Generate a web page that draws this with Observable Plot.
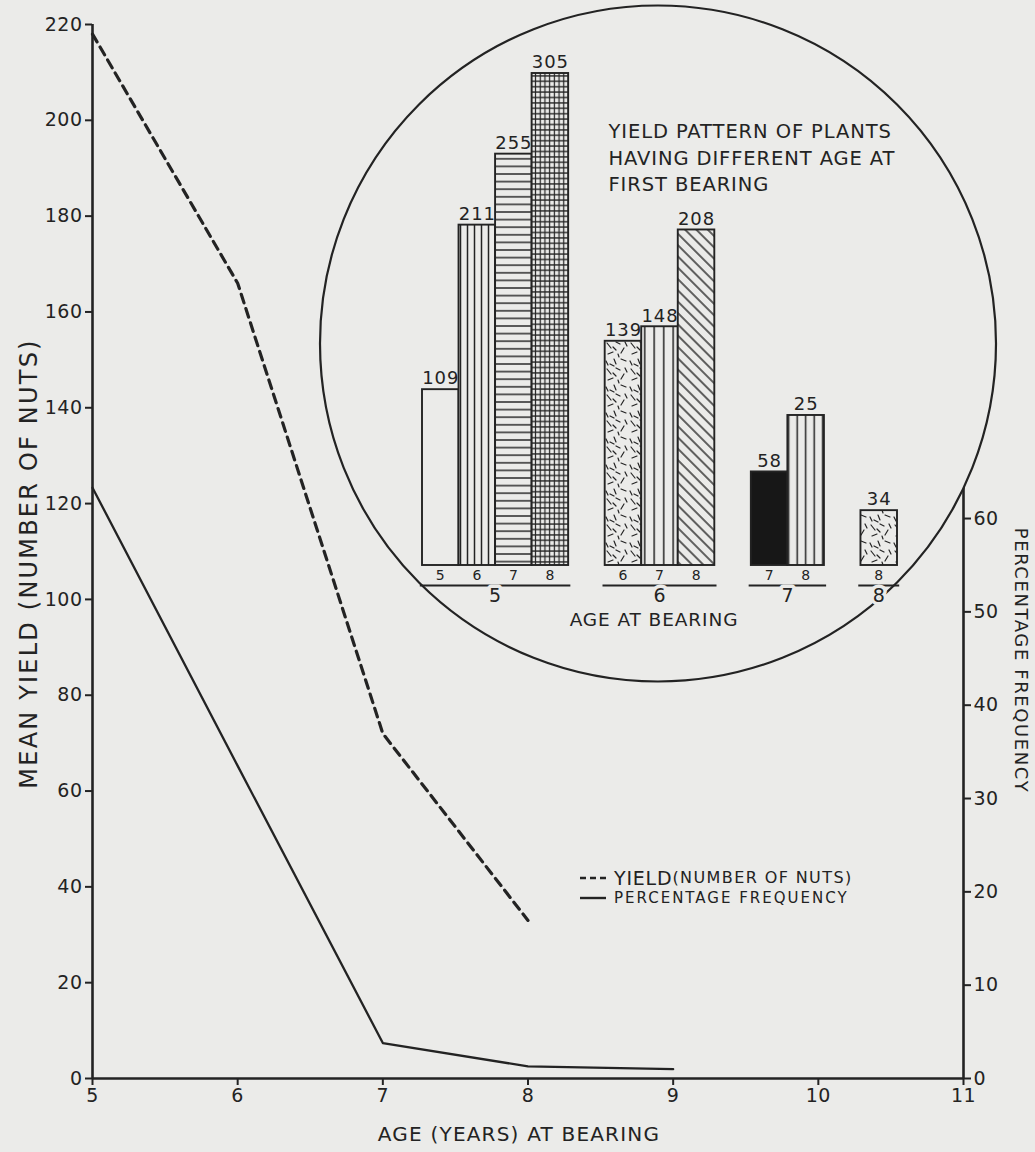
<!DOCTYPE html>
<html><head><meta charset="utf-8">
<script src="https://cdn.jsdelivr.net/npm/d3@7"></script>
<script src="https://cdn.jsdelivr.net/npm/@observablehq/plot@0.6"></script>
<style>
body{margin:0;background:#ebebe9;}
#wrap{position:relative;width:1035px;height:1152px;background:#ebebe9;overflow:hidden;font-family:"DejaVu Sans",sans-serif;color:#222;}
#wrap > svg{position:absolute;overflow:visible;}
#legend{position:absolute;left:580px;top:868px;color:#222;font-family:"DejaVu Sans",sans-serif;}
#legend .row{display:flex;align-items:center;white-space:nowrap;height:20px;line-height:20px;}
#legend svg{margin-right:8px;}
</style></head><body><div id="wrap"></div>
<script>
// ---------- main chart data ----------
const ageTicks   = [5, 6, 7, 8, 9, 10, 11];
const yieldTicks = [0, 20, 40, 60, 80, 100, 120, 140, 160, 180, 200, 220];
const pctTicks   = [0, 10, 20, 30, 40, 50, 60];
const pctAxisTop = 64;
const K = 1.948; // dual axis: yield units per percentage point

const yieldAges = [5, 6, 7, 8];
const yieldNuts = [218, 166, 72, 33];
const pctAges   = [5, 6, 7, 8, 9];
const pctFreq   = [63.3, 33.5, 3.8, 1.3, 1];

// ---------- inset data ----------
const barGroup = ["5","5","5","5","6","6","6","7","7","8"];   // age at first bearing
const barYear  = ["5","6","7","8","6","7","8","7","8","8"];   // year of yield
const barValue = [109, 211, 255, 305, 139, 148, 208, 58, 93, 34];
const barLabel = ["109","211","255","305","139","148","208","58","25","34"];
const insetTitle = "YIELD PATTERN OF PLANTS\nHAVING DIFFERENT AGE AT\nFIRST BEARING";

// ---------- styles ----------
const INK = "#232323";
const BG = "#ebebe9";
const FONT = "DejaVu Sans, sans-serif";
const fills = {
  "5-5": BG, "5-6": "url(#p-vert7)", "5-7": "url(#p-horiz)", "5-8": "url(#p-grid)",
  "6-6": "url(#p-stip)", "6-7": "url(#p-vert9)", "6-8": "url(#p-diag)",
  "7-7": "#171717", "7-8": "url(#p-vert8)", "8-8": "url(#p-stip)"
};

const yieldData = yieldAges.map((a, i) => ({age: a, nuts: yieldNuts[i]}));
const pctData = pctAges.map((a, i) => ({age: a, pct: pctFreq[i]}));

const wrap = document.getElementById("wrap");

const main = Plot.plot({
  width: 1035, height: 1152,
  marginLeft: 92, marginRight: 72, marginTop: 24, marginBottom: 74,
  x: {domain: [ageTicks[0], ageTicks[ageTicks.length - 1]]},
  y: {domain: [0, yieldTicks[yieldTicks.length - 1]]},
  style: {background: "transparent", fontFamily: FONT, fontSize: "19px", color: INK},
  marks: [
    Plot.ruleX([ageTicks[0]], {y1: 0, y2: yieldTicks[yieldTicks.length - 1], stroke: INK, strokeWidth: 2.6}),
    Plot.ruleY([0], {x1: ageTicks[0], x2: ageTicks[ageTicks.length - 1], stroke: INK, strokeWidth: 2.6}),
    Plot.ruleX([ageTicks[ageTicks.length - 1]], {y1: 0, y2: pctAxisTop * K, stroke: INK, strokeWidth: 2.6}),
    Plot.axisY(yieldTicks, {anchor: "left", tickSize: 7, tickPadding: 3, fontSize: 19, strokeWidth: 2, label: null}),
    Plot.axisY(pctTicks.map(v => v * K), {anchor: "right", tickSize: 7, tickPadding: 3, fontSize: 19, strokeWidth: 2,
      tickFormat: d => String(Math.round(d / K)), label: null}),
    Plot.axisX(ageTicks, {anchor: "bottom", tickSize: 7, tickPadding: 3, fontSize: 19, strokeWidth: 2,
      tickFormat: d => String(d), label: null}),
    Plot.line(yieldData, {x: "age", y: "nuts", stroke: INK, strokeWidth: 3.2, strokeDasharray: "9 6"}),
    Plot.line(pctData, {x: "age", y: d => d.pct * K, stroke: INK, strokeWidth: 2.3}),
    Plot.text(["MEAN YIELD (NUMBER OF NUTS)"], {frameAnchor: "left", textAnchor: "middle", rotate: -90, dx: -63, dy: 12,
      fontSize: 24, text: d => d, fill: INK}),
    Plot.text(["PERCENTAGE FREQUENCY"], {frameAnchor: "right", textAnchor: "middle", rotate: 90, dx: 57, dy: 109,
      fontSize: 18, text: d => d, fill: INK}),
    Plot.text(["AGE (YEARS) AT BEARING"], {frameAnchor: "bottom", textAnchor: "middle", dx: -9, dy: 62,
      fontSize: 20, text: d => d, fill: INK})
  ]
});
main.style.left = "0px"; main.style.top = "0px";
d3.select(main).selectAll("text").style("letter-spacing", "0.5px");
d3.select(main).selectAll("text").filter(function() { return this.textContent === "MEAN YIELD (NUMBER OF NUTS)"; })
  .style("letter-spacing", "2.2px");
d3.select(main).selectAll("text").filter(function() { return this.textContent === "PERCENTAGE FREQUENCY"; })
  .style("letter-spacing", "1.6px");
d3.select(main).selectAll("text").filter(function() { return this.textContent === "AGE (YEARS) AT BEARING"; })
  .style("letter-spacing", "1.2px");
wrap.appendChild(main);

// ---------- inset ----------
let slot = 0, prev = null;
const bars = barGroup.map((g, i) => {
  if (prev !== null && g !== prev) slot++;
  prev = g;
  const b = {group: g, year: barYear[i], value: barValue[i], label: barLabel[i], s0: slot, s1: slot + 1, key: g + "-" + barYear[i]};
  slot++;
  return b;
});
const nSlots = slot;
const groupNames = Array.from(new Set(barGroup));
const groupSpans = groupNames.map(g => {
  const gb = bars.filter(b => b.group === g);
  return {group: g, x1: gb[0].s0 - 0.06, x2: gb[gb.length - 1].s1 + 0.06, mid: (gb[0].s0 + gb[gb.length - 1].s1) / 2};
});

const inset = Plot.plot({
  width: 680, height: 680,
  marginLeft: 105, marginRight: 100, marginTop: 70, marginBottom: 118,
  x: {domain: [0, nSlots], axis: null},
  y: {domain: [0, 305], axis: null},
  color: {type: "identity"},
  style: {background: "transparent", fontFamily: FONT, color: INK, overflow: "visible"},
  marks: [
    Plot.dot([0], {frameAnchor: "middle", dx: -2, dy: 24, r: 338, fill: BG, stroke: INK, strokeWidth: 2.2}),
    Plot.rect(bars, {x1: "s0", x2: "s1", y1: 0, y2: "value", fill: d => fills[d.key], stroke: INK, strokeWidth: 1.9}),
    Plot.text(bars, {x: d => d.s0 + 0.5, y: "value", text: "label", dy: -11, fontSize: 18, fill: INK}),
    Plot.text(bars, {x: d => d.s0 + 0.5, y: 0, text: "year", dy: 10, fontSize: 14, fill: INK}),
    Plot.ruleY(groupSpans, {x1: "x1", x2: "x2", y: 0, dy: 20, stroke: INK, strokeWidth: 1.8}),
    Plot.text(groupSpans, {x: "mid", y: 0, text: "group", dy: 30, fontSize: 19, fill: INK,
      stroke: BG, strokeWidth: 7, paintOrder: "stroke"}),
    Plot.text(["AGE AT BEARING"], {frameAnchor: "bottom", textAnchor: "middle", dx: -6, dy: 60, text: d => d, fontSize: 18.5, fill: INK}),
    Plot.text([insetTitle], {frameAnchor: "top-left", dx: 186, dy: 46, text: d => d, fontSize: 19.5,
      textAnchor: "start", lineAnchor: "top", lineHeight: 1.35, fill: INK})
  ]
});
d3.select(inset).selectAll("text").style("letter-spacing", "0.9px");

// hatch patterns
const defs = d3.select(inset).insert("defs", ":first-child");
function pattern(id, w, h, d, sw, transform) {
  const p = defs.append("pattern").attr("id", id).attr("patternUnits", "userSpaceOnUse")
    .attr("width", w).attr("height", h);
  if (transform) p.attr("patternTransform", transform);
  p.append("rect").attr("width", w).attr("height", h).attr("fill", BG);
  p.append("path").attr("d", d).attr("stroke", INK).attr("stroke-width", sw).attr("fill", "none")
    .attr("stroke-linecap", "round");
}
pattern("p-vert7", 7, 10, "M3.5,-1V11", 1.5);
pattern("p-vert8", 8.5, 10, "M4.2,-1V11", 1.5);
pattern("p-vert9", 9.5, 10, "M4.7,-1V11", 1.5);
pattern("p-horiz", 10, 7.6, "M-1,3.8H11", 1.6);
pattern("p-grid", 4.7, 5.4, "M2.35,-1V6.4M-1,2.7H5.7", 1.2);
pattern("p-diag", 8, 10, "M4,-1V11", 1.4, "rotate(-45)");
pattern("p-stip", 24, 26,
  "M2,2L6,7M11,1L15,3M19,7L16,12M3,13L8,11M9,18L11,23M1,20L3,24M16,18L21,20M8,6L11,9M20,1L22,5M13,13L14,16M5,23L9,25",
  1.2);

inset.style.left = "317px"; inset.style.top = "3px";
wrap.appendChild(inset);

// legend
const legend = document.createElement("div");
legend.id = "legend";
legend.innerHTML =
  '<div class="row"><svg width="26" height="6"><line x1="0" y1="3" x2="26" y2="3" stroke="' + INK + '" stroke-width="2.6" stroke-dasharray="6 4"/></svg>' +
  '<span style="font-size:19px;letter-spacing:0.8px">YIELD</span><span style="font-size:16px;letter-spacing:1.4px">(NUMBER OF NUTS)</span></div>' +
  '<div class="row"><svg width="26" height="6"><line x1="0" y1="3" x2="26" y2="3" stroke="' + INK + '" stroke-width="2.4"/></svg>' +
  '<span style="font-size:15px;letter-spacing:2px">PERCENTAGE FREQUENCY</span></div>';
wrap.appendChild(legend);
</script></body></html>
